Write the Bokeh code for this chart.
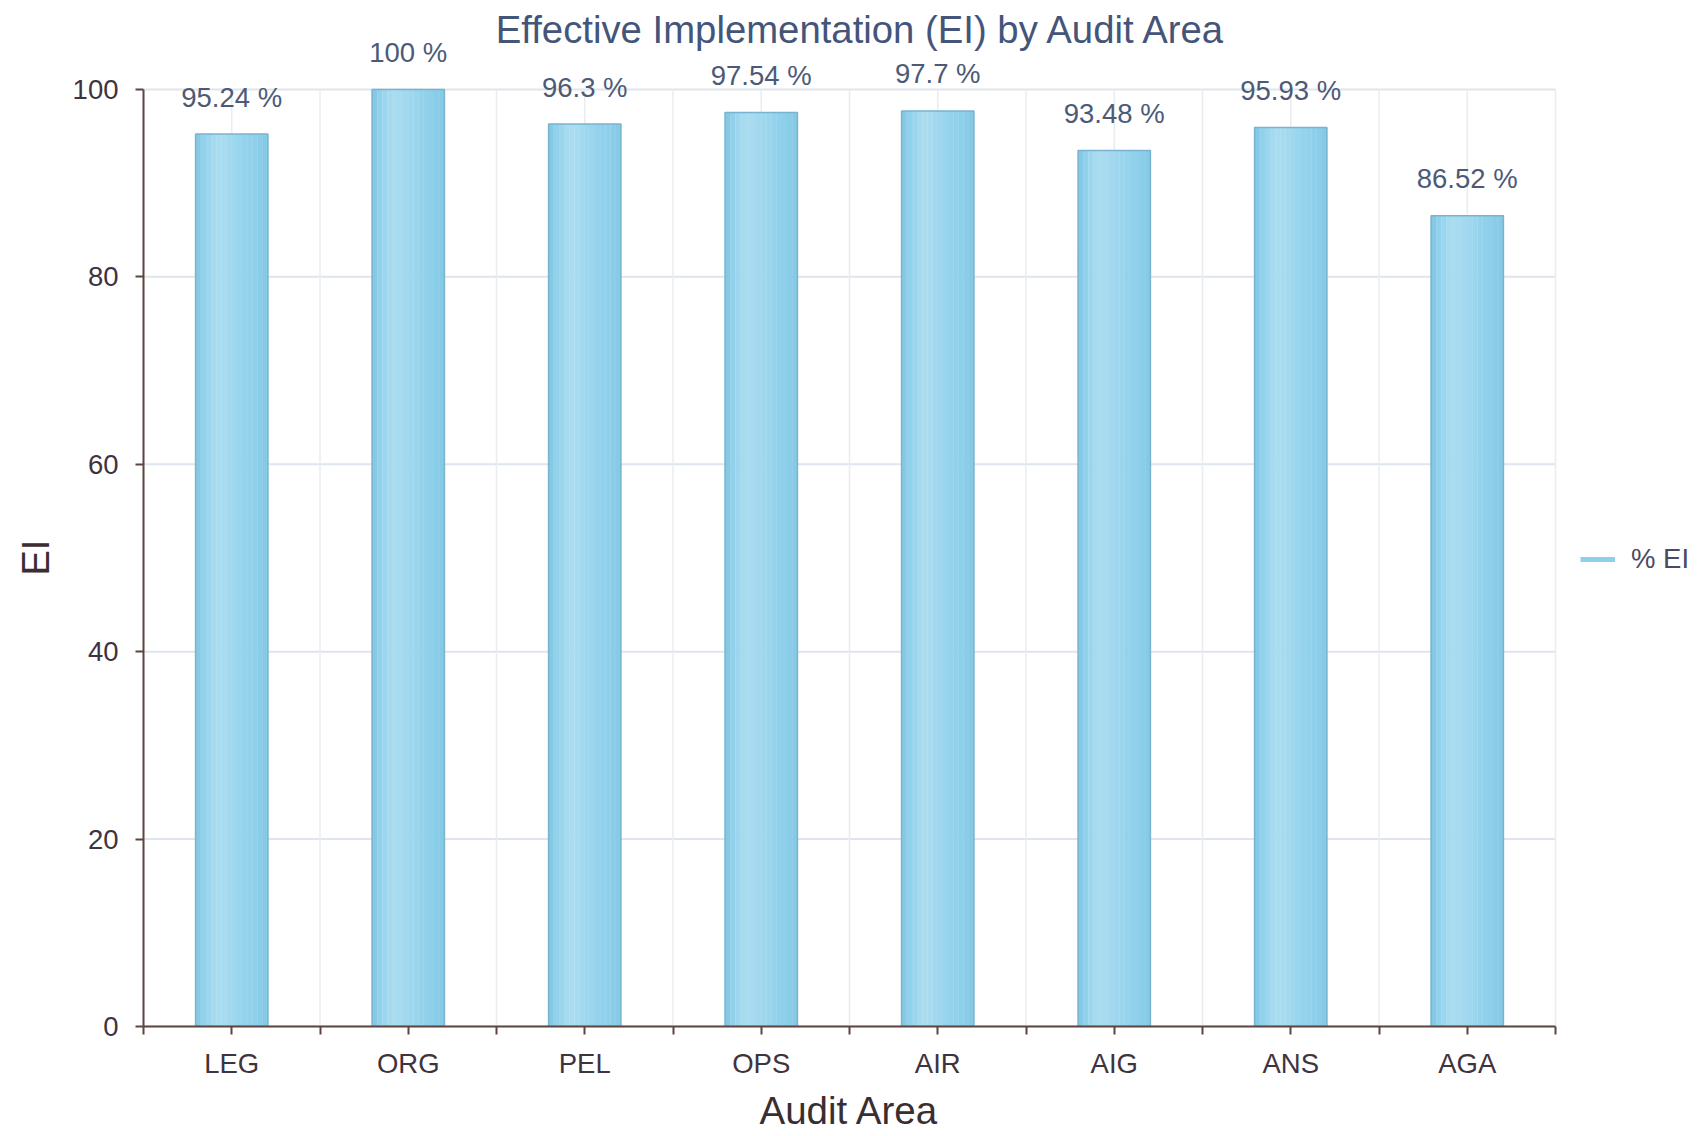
from bokeh.plotting import figure
from bokeh.models import (ColumnDataSource, LabelSet, Label, Range1d, FixedTicker,
                          Legend, LegendItem, Title)
from bokeh.core.properties import value
from bokeh.transform import dodge
from bokeh.embed import file_html
from bokeh.resources import INLINE

# ---- data ----
areas = ["LEG", "ORG", "PEL", "OPS", "AIR", "AIG", "ANS", "AGA"]
ei_values = [95.24, 100, 96.3, 97.54, 97.7, 93.48, 95.93, 86.52]
y_ticks = [0, 20, 40, 60, 80, 100]
title_text = "Effective Implementation (EI) by Audit Area"
x_title = "Audit Area"
y_title = "EI"
series_name = "% EI"

FONT = "Liberation Sans"
n_cat = len(areas)
centers = [i + 0.5 for i in range(n_cat)]
bounds = [float(i) for i in range(n_cat + 1)]
labels = [f"{v:g} %" for v in ei_values]
y_min, y_max = min(y_ticks), max(y_ticks)

src = ColumnDataSource(dict(x=centers, top=ei_values, label=labels))

W, H = 1700, 1136
LEFT, BOTTOM = 143, 109
FRAME_W, FRAME_H = 1412.0, 938.0   # size of the axes area (0..8, 0..100)
x_end = n_cat * (W - LEFT) / FRAME_W
y_end = y_max * (H - BOTTOM) / FRAME_H

p = figure(width=W, height=H, output_backend="svg", toolbar_location=None,
           x_range=Range1d(0, x_end), y_range=Range1d(0, y_end),
           min_border_left=LEFT, min_border_right=0, min_border_top=0,
           min_border_bottom=BOTTOM, title=None)
p.outline_line_color = None
p.background_fill_color = "white"
p.xgrid.visible = False
p.ygrid.visible = False

# grid lines (bounded to the axes extent)
p.segment(x0=min(bounds), x1=max(bounds), y0=y_ticks, y1=y_ticks,
          line_color="#dfe5ec", line_width=2)
vlines = sorted(centers + bounds)
p.segment(x0=vlines, x1=vlines, y0=y_min, y1=y_max,
          line_color="#eaecef", line_width=1.5)

# gradient bars (drawn as narrow strips)
bar_w = 0.41
strip_cols = ["#86c9e5", "#92d1eb", "#9cd6ee", "#a5daef", "#aadcf0", "#a8dbf0",
              "#a3d9ef", "#9ed7ee", "#99d5ed", "#95d3ec", "#91d1eb", "#8ecfea",
              "#8acde9", "#86cae6"]
n = len(strip_cols)
sw = bar_w / n
for k, c in enumerate(strip_cols):
    off = -bar_w / 2 + sw * (k + 0.5)
    p.vbar(x=dodge("x", off), top="top", bottom=0, width=sw * 1.05, source=src,
           fill_color=c, line_color=None)
p.vbar(x="x", top="top", bottom=0, width=bar_w, source=src,
       fill_color=None, line_color="#78b4cf", line_width=1.5)

# value labels
p.add_layout(LabelSet(x="x", y="top", text="label", source=src, y_offset=37,
                      text_align="center", text_baseline="middle",
                      text_font=value(FONT), text_font_size=value("27.5px"),
                      text_color=value("#4c5a78")))

# chart title
p.add_layout(Label(x=n_cat / 2, y=y_max, x_offset=12, y_offset=60,
                   text=title_text, text_align="center", text_baseline="middle",
                   text_font=FONT, text_font_size="38.3px", text_color="#44557a"))

# axes
axis_col = "#5a4540"
for ax in (p.xaxis[0], p.yaxis[0]):
    ax.axis_line_color = axis_col
    ax.axis_line_width = 2
    ax.major_tick_line_color = axis_col
    ax.major_tick_line_width = 2
    ax.major_tick_in = 0
    ax.major_tick_out = 8
    ax.minor_tick_line_color = axis_col
    ax.minor_tick_line_width = 2
    ax.minor_tick_in = 0
    ax.minor_tick_out = 8
    ax.major_label_text_font = FONT
    ax.major_label_text_font_size = "27.5px"
    ax.major_label_text_color = "#3f3340"

p.yaxis.ticker = FixedTicker(ticks=y_ticks)
p.yaxis.bounds = (y_min, y_max)
p.yaxis.minor_tick_out = 0
p.yaxis.major_label_standoff = 17

p.xaxis.ticker = FixedTicker(ticks=centers, minor_ticks=bounds)
p.xaxis.bounds = (min(bounds), max(bounds))
p.xaxis.major_label_overrides = {c: a for c, a in zip(centers, areas)}
p.xaxis.major_label_standoff = 13

# axis titles (as panel titles, positioned along the bounded axes)
p.add_layout(Title(text=y_title, align="left", offset=451, standoff=25,
                   text_font=FONT, text_font_size="38px",
                   text_font_style="normal", text_color="#3a2e33"), "left")
p.add_layout(Title(text=x_title, align="left", offset=616, standoff=10,
                   text_font=FONT, text_font_size="38.5px",
                   text_font_style="normal", text_color="#3a2e33"), "below")

# legend with line swatch
dummy = p.line(x=centers[:1], y=ei_values[:1], line_color="#8fcfea", line_width=5)
legend = Legend(items=[LegendItem(label=series_name, renderers=[dummy])],
                location=(1437, 451), margin=0, padding=10,
                border_line_color=None, background_fill_alpha=0,
                label_text_font=FONT, label_text_font_size="27.5px",
                label_text_color="#4a4a66", glyph_width=35, label_standoff=16)
p.add_layout(legend)

open("out.html", "w").write(file_html(p, INLINE))
